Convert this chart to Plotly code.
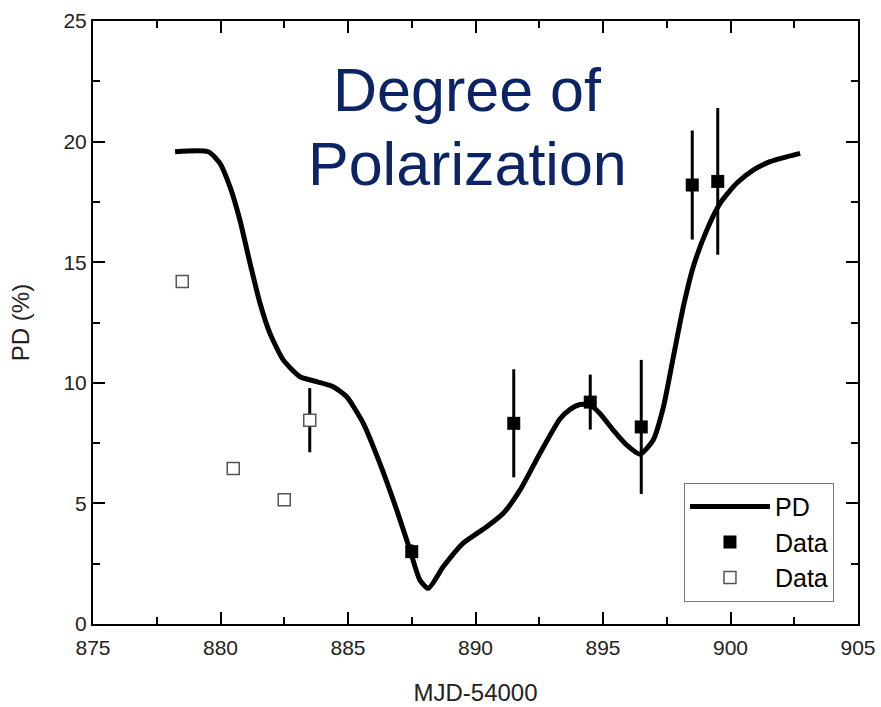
import plotly.graph_objects as go

# PD model curve
curve_x = [878.22, 879.52, 879.98, 880.37, 880.76, 881.16, 881.55, 881.94, 882.46, 883.12,
           883.77, 884.42, 884.95, 885.6, 886.25, 886.91, 887.43, 887.82, 888.15, 888.74,
           889.52, 890.44, 891.09, 891.75, 892.53, 893.31, 893.71, 894.1, 894.49, 894.88,
           895.4, 895.93, 896.45, 896.97, 897.37, 897.76, 898.15, 898.54, 899.07, 899.59,
           900.24, 900.89, 901.55, 902.2, 902.73]
curve_y = [19.58, 19.58, 19.1, 18.13, 16.75, 14.95, 13.3, 12.05, 10.95, 10.25,
           10.05, 9.84, 9.42, 8.32, 6.66, 4.73, 3.07, 1.82, 1.48, 2.38,
           3.35, 4.03, 4.59, 5.56, 7.08, 8.5, 8.9, 9.1, 9.08, 8.73,
           8.04, 7.42, 7.04, 7.63, 9.0, 11.08, 13.15, 14.81, 16.33, 17.44,
           18.27, 18.82, 19.17, 19.37, 19.51]

# Filled data points with error bars
data_x = [887.5, 891.5, 894.5, 896.5, 898.5, 899.5]
data_y = [3.0, 8.32, 9.2, 8.17, 18.2, 18.35]
data_err = [0.3, 2.24, 1.14, 2.78, 2.26, 3.04]

# Open data points
open_x = [878.5, 880.5, 882.5, 883.5]
open_y = [14.2, 6.45, 5.15, 8.45]
open_err = [0.0, 0.0, 0.0, 1.33]

x_ticks = [875, 880, 885, 890, 895, 900, 905]
y_ticks = [0, 5, 10, 15, 20, 25]

title_lines = ["Degree of", "Polarization"]

FONT = "Liberation Sans, Arial, sans-serif"

fig = go.Figure()
fig.add_trace(go.Scatter(
    x=curve_x, y=curve_y, mode="lines", name="PD",
    line=dict(color="black", width=5, shape="spline", smoothing=0.6),
))
fig.add_trace(go.Scatter(
    x=data_x, y=data_y, mode="markers", name="Data",
    marker=dict(symbol="square", size=13, color="black"),
    error_y=dict(type="data", array=data_err, visible=True, color="black", thickness=3, width=0),
))
fig.add_trace(go.Scatter(
    x=open_x, y=open_y, mode="markers", name="Data",
    marker=dict(symbol="square", size=12, color="white", line=dict(color="#555555", width=1.5)),
    error_y=dict(type="data", array=open_err, visible=True, color="black", thickness=3, width=0),
))

axis_common = dict(
    showline=True, linewidth=2, linecolor="black", mirror="ticks",
    ticks="inside", ticklen=12, tickwidth=2, tickcolor="black",
    showgrid=False, zeroline=False, automargin=False,
    tickfont=dict(family=FONT, size=21, color="#222222"),
)

fig.update_xaxes(
    range=[875, 905], tickvals=x_ticks, ticktext=[str(v) for v in x_ticks],
    minor=dict(ticks="inside", ticklen=7, tickwidth=2, tickcolor="black", dtick=2.5, tick0=875),
    title=dict(text="MJD-54000", font=dict(family=FONT, size=24, color="#222222"), standoff=26),
    ticklabelstandoff=4,
    **axis_common,
)
fig.update_yaxes(
    range=[0, 25], tickvals=y_ticks, ticktext=[str(v) for v in y_ticks],
    minor=dict(ticks="inside", ticklen=7, tickwidth=2, tickcolor="black", dtick=2.5, tick0=0),
    title=dict(text="PD (%)", font=dict(family=FONT, size=24, color="#222222"), standoff=27),
    **axis_common,
)

for txt, ypos in zip(title_lines, [0.945, 0.822]):
    fig.add_annotation(
        text=txt, xref="paper", yref="paper",
        x=0.49, y=ypos, xanchor="center", yanchor="top", showarrow=False,
        font=dict(family=FONT, size=61, color="#0B2465"),
    )

fig.update_layout(
    width=881, height=707,
    margin=dict(l=93, r=23, t=21, b=83),
    paper_bgcolor="white", plot_bgcolor="white",
    showlegend=True,
    legend=dict(
        x=0.7725, y=0.037, xanchor="left", yanchor="bottom",
        bordercolor="#777777", borderwidth=1, bgcolor="white",
        font=dict(family=FONT, size=25, color="black"),
        itemwidth=80,
    ),
    font=dict(family=FONT),
)

fig.write_html("out.html", config={"displayModeBar": False},
               post_script="document.body.style.margin='0px';")
